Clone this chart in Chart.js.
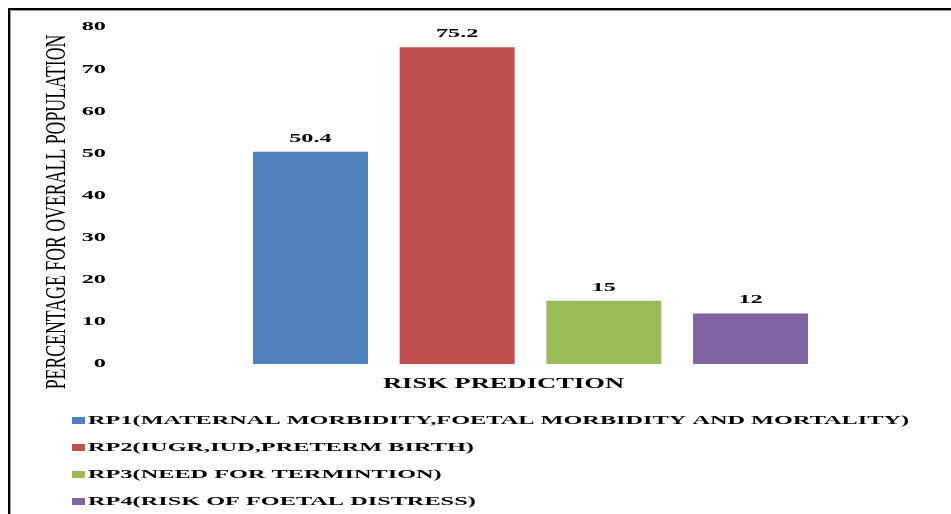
<!DOCTYPE html>
<html>
<head>
<meta charset="utf-8">
<script src="https://cdn.jsdelivr.net/npm/chart.js@4/dist/chart.umd.min.js"></script>
<style>
  html, body { margin: 0; padding: 0; background: #fff; }
  #wrap { position: relative; width: 951px; height: 514px; }
</style>
</head>
<body>
<div id="wrap"><canvas id="chart" width="951" height="514"></canvas></div>
<script>
// Category, series and tick values
const categories = ['RISK PREDICTION'];
const seriesNames = [
  'RP1(MATERNAL MORBIDITY,FOETAL MORBIDITY AND MORTALITY)',
  'RP2(IUGR,IUD,PRETERM BIRTH)',
  'RP3(NEED FOR TERMINTION)',
  'RP4(RISK OF FOETAL DISTRESS)'
];
const rp1Values = [50.4];
const rp2Values = [75.2];
const rp3Values = [15];
const rp4Values = [12];
const yTickValues = [0, 10, 20, 30, 40, 50, 60, 70, 80];
const yTitle = 'PERCENTAGE FOR OVERALL POPULATION';

const seriesColors = ['#4F81BD', '#C0504D', '#9BBB59', '#8064A2'];
const seriesValues = [rp1Values, rp2Values, rp3Values, rp4Values];

const SERIF = '"Liberation Serif", "Times New Roman", serif';

// Text is drawn wide (horizontally stretched)
function wideText(ctx, text, x, y, font, sx, align, baseline) {
  ctx.save();
  ctx.translate(x, y);
  ctx.scale(sx, 1);
  ctx.font = font;
  ctx.fillStyle = '#000';
  ctx.textAlign = align;
  ctx.textBaseline = baseline;
  ctx.fillText(text, 0, 0);
  ctx.restore();
}

const framePlugin = {
  id: 'frame',
  beforeDraw(chart) {
    const ctx = chart.ctx;
    ctx.save();
    ctx.fillStyle = '#fff';
    ctx.fillRect(0, 0, chart.width, chart.height);
    ctx.fillStyle = '#000';
    ctx.fillRect(8, 8, chart.width - 8, 2);
    ctx.fillRect(8, 8, 2, chart.height - 8);
    ctx.fillStyle = '#9a9a9a';
    ctx.fillRect(10, 10, chart.width - 10, 1);
    ctx.fillRect(10, 10, 1, chart.height - 10);
    ctx.restore();
  }
};

const textPlugin = {
  id: 'texts',
  afterDatasetsDraw(chart) {
    const ctx = chart.ctx;
    const ys = chart.scales.y;
    const xs = chart.scales.x;

    // y tick labels
    yTickValues.forEach(v => {
      wideText(ctx, String(v), 106, ys.getPixelForValue(v), 'bold 13.5px ' + SERIF, 1.8, 'right', 'middle');
    });

    // value labels above the bars
    chart.data.datasets.forEach((ds, i) => {
      const meta = chart.getDatasetMeta(i);
      meta.data.forEach((bar, j) => {
        wideText(ctx, String(ds.data[j]), bar.x, bar.y - 10, 'bold 13.5px ' + SERIF, 1.8, 'center', 'alphabetic');
      });
    });

    // category label under the group
    categories.forEach((c, j) => {
      wideText(ctx, c, xs.getPixelForValue(j) - 27, 384, 'bold 15px ' + SERIF, 1.77, 'center', 'middle');
    });

    // rotated y-axis title
    ctx.save();
    ctx.translate(58, 212);
    ctx.scale(1.6, 1);
    ctx.rotate(-Math.PI / 2);
    ctx.font = '17.8px ' + SERIF;
    ctx.fillStyle = '#000';
    ctx.textAlign = 'center';
    ctx.textBaseline = 'middle';
    ctx.fillText(yTitle, 0, 0);
    ctx.restore();

    // legend, one entry per row
    chart.data.datasets.forEach((ds, i) => {
      const cy = 421 + i * 27;
      ctx.save();
      ctx.fillStyle = ds.backgroundColor;
      ctx.fillRect(72, cy - 4, 13, 7);
      ctx.restore();
      wideText(ctx, ds.label, 88, cy, 'bold 13.5px ' + SERIF, 1.8, 'left', 'middle');
    });
  }
};

new Chart(document.getElementById('chart'), {
  type: 'bar',
  data: {
    labels: categories,
    datasets: seriesNames.map((name, i) => ({
      label: name,
      data: seriesValues[i],
      backgroundColor: seriesColors[i],
      borderWidth: 0,
      categoryPercentage: 0.701,
      barPercentage: 0.784
    }))
  },
  options: {
    responsive: false,
    animation: false,
    layout: { padding: { left: 112, right: 2, top: 27, bottom: 150 } },
    plugins: {
      legend: { display: false },
      tooltip: { enabled: false }
    },
    scales: {
      x: { display: false },
      y: { display: false, min: 0, max: 80, ticks: { stepSize: 10 } }
    }
  },
  plugins: [framePlugin, textPlugin]
});
</script>
</body>
</html>
